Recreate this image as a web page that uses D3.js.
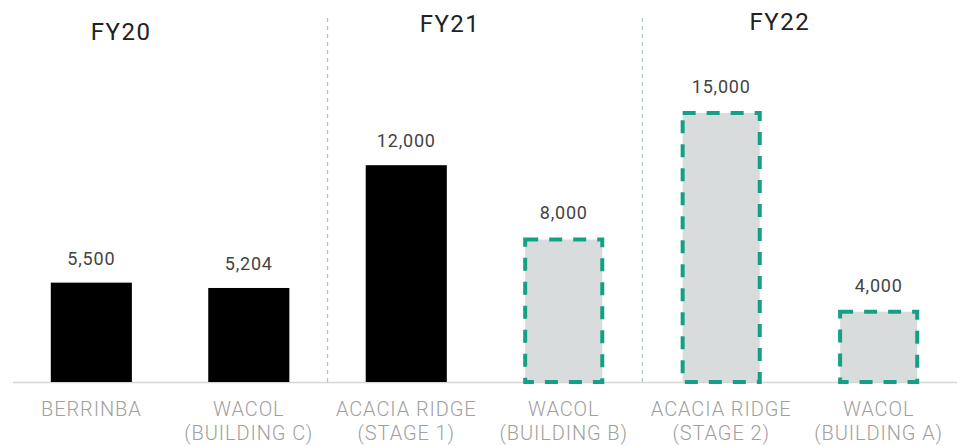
<!DOCTYPE html>
<html>
<head>
<meta charset="utf-8">
<script src="https://cdn.jsdelivr.net/npm/d3@7/dist/d3.min.js"></script>
<style>
  html, body { margin: 0; padding: 0; background: #fff; }
  svg { display: block; }
</style>
</head>
<body>
<svg id="chart" width="965" height="446"></svg>
<script>
// Development pipeline by financial year
const projects = ["BERRINBA", "WACOL (BUILDING C)", "ACACIA RIDGE (STAGE 1)",
                  "WACOL (BUILDING B)", "ACACIA RIDGE (STAGE 2)", "WACOL (BUILDING A)"];
const labelLines = [["BERRINBA"], ["WACOL", "(BUILDING C)"], ["ACACIA RIDGE", "(STAGE 1)"],
                    ["WACOL", "(BUILDING B)"], ["ACACIA RIDGE", "(STAGE 2)"], ["WACOL", "(BUILDING A)"]];
const areas = [5500, 5204, 12000, 8000, 15000, 4000];
const completed = [true, true, true, false, false, false];
const years = ["FY20", "FY21", "FY22"];
const yearOf = ["FY20", "FY20", "FY21", "FY21", "FY22", "FY22"];

const svg = d3.select("#chart");
const baseY = 382;

const x = d3.scaleBand().domain(projects).range([13, 957]).paddingInner(0.485).paddingOuter(0.24);
const y = d3.scaleLinear().domain([0, 15000]).range([baseY, 111]);
const fmt = d3.format(",");

// Year group separators
const groupEdges = [
  (x(projects[1]) + x.bandwidth() + x(projects[2])) / 2,
  (x(projects[3]) + x.bandwidth() + x(projects[4])) / 2
];
svg.selectAll("line.sep").data(groupEdges).join("line")
  .attr("class", "sep")
  .attr("x1", d => d).attr("x2", d => d)
  .attr("y1", 18).attr("y2", baseY)
  .attr("stroke", "#a9c3c4").attr("stroke-width", 1.2)
  .attr("stroke-dasharray", "4,4");

// Year headings
const yearCenters = years.map(yr => {
  const idx = yearOf.map((v, i) => v === yr ? i : -1).filter(i => i >= 0);
  return (x(projects[idx[0]]) + x(projects[idx[idx.length - 1]]) + x.bandwidth()) / 2;
});
const yearY = [40, 32, 30];
const yearDx = [-49, -35, -20];
svg.selectAll("text.year").data(years).join("text")
  .attr("class", "year")
  .attr("x", (d, i) => yearCenters[i] + yearDx[i])
  .attr("y", (d, i) => yearY[i])
  .attr("text-anchor", "middle")
  .attr("font-family", "Roboto, 'Noto Sans', sans-serif")
  .attr("font-size", 24)
  .attr("letter-spacing", "1.5px")
  .attr("fill", "#222")
  .text(d => d);

// Baseline
svg.append("line")
  .attr("x1", 13).attr("x2", 957)
  .attr("y1", baseY + 0.5).attr("y2", baseY + 0.5)
  .attr("stroke", "#d6d6d6").attr("stroke-width", 1.5);

// Bars: completed solid, planned dashed outline
const bars = svg.selectAll("g.bar").data(projects).join("g").attr("class", "bar");
bars.each(function(d, i) {
  const g = d3.select(this);
  const bx = x(d), bw = x.bandwidth(), top = y(areas[i]);
  if (completed[i]) {
    g.append("rect")
      .attr("x", bx).attr("y", top)
      .attr("width", bw).attr("height", baseY - top)
      .attr("fill", "#000");
  } else {
    g.append("rect")
      .attr("x", bx + 2).attr("y", top + 2)
      .attr("width", bw - 4).attr("height", baseY - top - 2)
      .attr("fill", "#d9dcdd")
      .attr("stroke", "#13a084").attr("stroke-width", 4)
      .attr("stroke-dasharray", "13,11");
  }
});

// Value labels
svg.selectAll("text.value").data(areas).join("text")
  .attr("class", "value")
  .attr("x", (d, i) => x(projects[i]) + x.bandwidth() / 2)
  .attr("y", d => y(d) - 18)
  .attr("text-anchor", "middle")
  .attr("font-family", "Roboto, 'Noto Sans', sans-serif")
  .attr("font-size", 18)
  .attr("letter-spacing", "0.8px")
  .attr("fill", "#444")
  .text(d => fmt(d));

// Category labels
const cat = svg.selectAll("text.cat").data(projects).join("text")
  .attr("class", "cat")
  .attr("x", (d, i) => x(d) + x.bandwidth() / 2)
  .attr("y", 416)
  .attr("text-anchor", "middle")
  .attr("font-family", "Roboto, 'Noto Sans', sans-serif")
  .attr("font-size", 20)
  .attr("font-weight", 300)
  .attr("letter-spacing", "0.9px")
  .attr("fill", "#a0a0a0");
cat.each(function(d, i) {
  const t = d3.select(this);
  labelLines[i].forEach((line, k) => {
    t.append("tspan")
      .attr("x", x(d) + x.bandwidth() / 2)
      .attr("dy", k === 0 ? 0 : 24)
      .text(line);
  });
});
</script>
</body>
</html>
